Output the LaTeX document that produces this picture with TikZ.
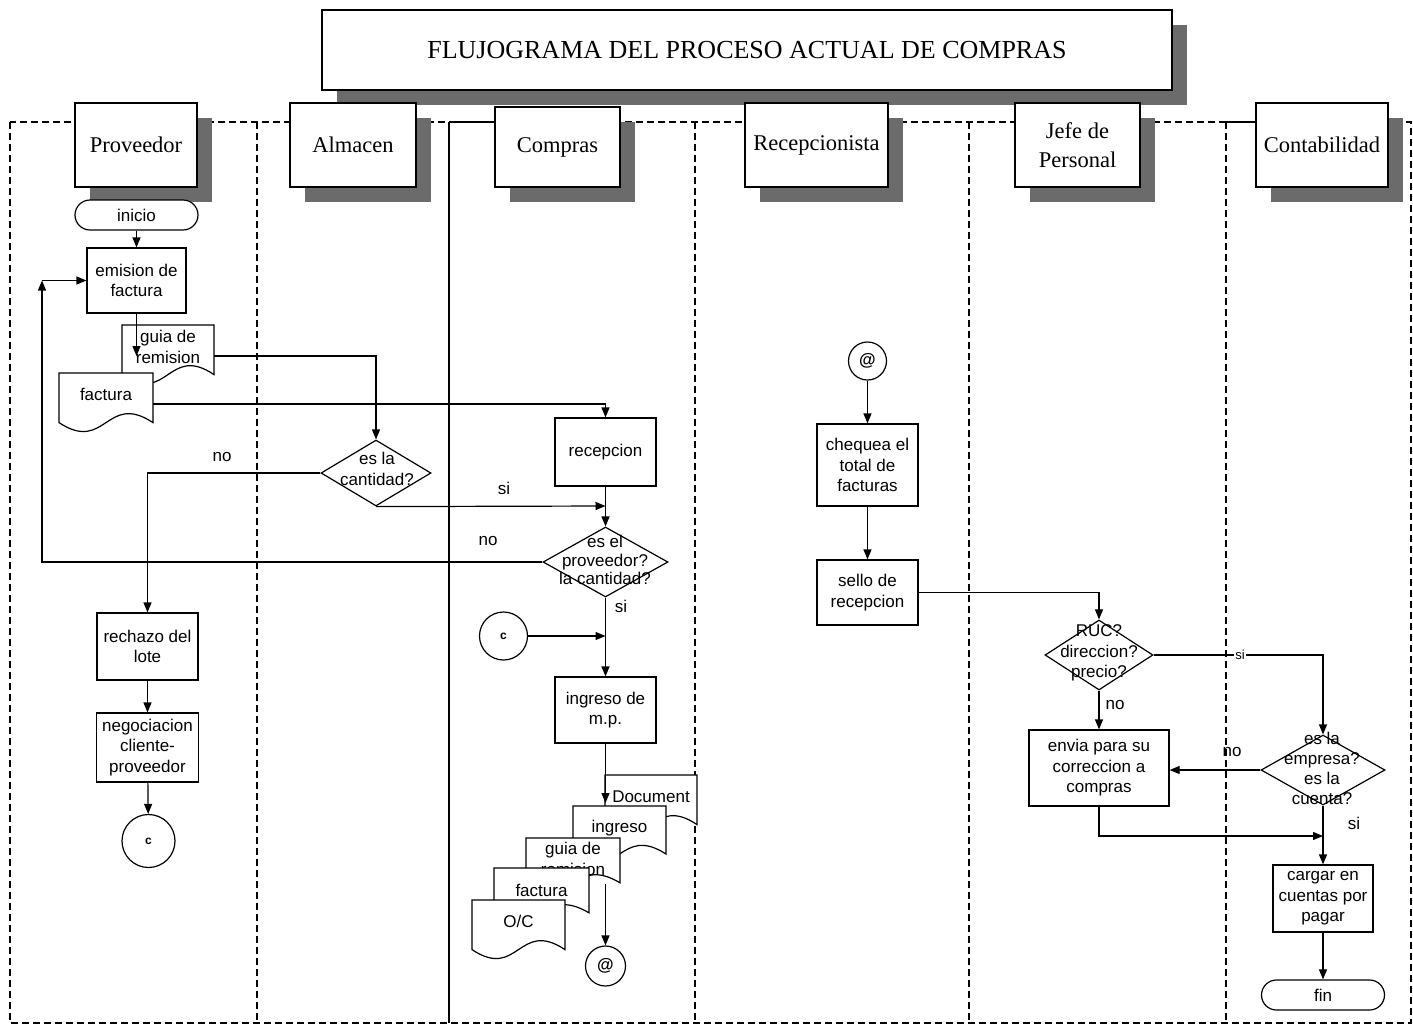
\documentclass[tikz,border=0pt]{standalone}
\usepackage{fontspec}
\setmainfont{Liberation Serif}
\setsansfont{Liberation Sans}
\usetikzlibrary{arrows.meta,shapes.geometric,shadows}

\tikzset{
  ln/.style={line width=1.2pt},
  arr/.style={line width=1.2pt,-{Triangle[length=10pt,width=8pt]}},
  lane/.style={line width=1.2pt, dash pattern=on 7pt off 4pt},
  hdr/.style={draw, line width=1.2pt, fill=white, font=\fontsize{22.5}{29}\selectfont,
    align=center, inner sep=0pt,
    drop shadow={shadow xshift=15pt, shadow yshift=-15pt, fill=black!58, opacity=1}},
  proc/.style={draw, line width=1.2pt, fill=white, font=\sffamily\fontsize{17}{20.5}\selectfont,
    align=center, inner sep=0pt},
  term/.style={proc, rounded corners=15pt},
  dia/.style={draw, line width=1.2pt, fill=white, shape=diamond, inner sep=0pt},
  ptext/.style={font=\sffamily\fontsize{17}{20.5}\selectfont, align=center, inner sep=0pt},
  lbl/.style={font=\sffamily\fontsize{17}{20}\selectfont, inner sep=1pt},
  conn/.style={draw, circle, line width=1.2pt, fill=white, inner sep=0pt,
    font=\sffamily\bfseries\fontsize{12}{13}\selectfont},
  atconn/.style={conn, font=\sffamily\bfseries\fontsize{17}{18}\selectfont},
  docline/.style={line width=1.2pt, fill=white},
  doctext/.style={font=\sffamily\fontsize{17}{20.5}\selectfont, align=center, inner sep=0pt},
}

% document symbol: name, left x, top y, width, height, text offset, text
\newcommand{\docshape}[7]{%
  \pgfmathsetmacro{\dsR}{#2+#4}%
  \pgfmathsetmacro{\dsB}{#3+0.8*#5}%
  \pgfmathsetmacro{\dsM}{#2+0.5*#4}%
  \pgfmathsetmacro{\dsLo}{#3+1.3*#5}%
  \pgfmathsetmacro{\dsHi}{#3+0.3*#5}%
  \pgfmathsetmacro{\dsE}{#3+0.5*#5}%
  \filldraw[docline] (#2,#3) -- (\dsR,#3) -- (\dsR,\dsB)
    .. controls (\dsM,\dsHi) and (\dsM,\dsLo) .. (#2,\dsB) -- cycle;
  \coordinate (#1-e) at (\dsR,\dsE);
  \node[doctext] (#1) at (\dsM,#3+#6) {#7};
}

\begin{document}
\begin{tikzpicture}[x=1pt,y=-1pt]
\useasboundingbox (0,0) rectangle (1413,1026);
\fill[white] (0,0) rectangle (1413,1026);

% swimlanes
\draw[lane] (10,122) rectangle (1411,1023);
\draw[lane] (257,122) -- (257,1023);
\draw[lane] (695,122) -- (695,1023);
\draw[lane] (969,122) -- (969,1023);
\draw[lane] (1226,122) -- (1226,1023);
\draw[ln] (449,122) -- (449,1023);
\draw[ln] (449,122) -- (495,122);
\draw[ln] (1226,122) -- (1256,122);

% title and lane headers
\node[hdr, minimum width=850, minimum height=80, font=\fontsize{26}{30}\selectfont] (title) at (747,50)
  {FLUJOGRAMA DEL PROCESO ACTUAL DE COMPRAS};
\node[hdr, minimum width=122, minimum height=84] (hprov) at (136,145) {Proveedor};
\node[hdr, minimum width=126, minimum height=84] (halm) at (353,145) {Almacen};
\node[hdr, minimum width=125, minimum height=80] (hcom) at (557.5,147) {Compras};
\node[hdr, minimum width=143, minimum height=84] (hrec) at (816.5,145) {Recepcionista};
\node[hdr, minimum width=125, minimum height=84] (hjef) at (1077.5,145) {Jefe de\\Personal};
\node[hdr, minimum width=132, minimum height=84] (hcon) at (1322,145) {Contabilidad};

% Proveedor
\node[term, minimum width=123, minimum height=30] (ini) at (136.5,215) {inicio};
\node[proc, minimum width=99, minimum height=65] (emi) at (136.5,280.5) {emision de\\factura};
\coordinate (emiend) at (136.5,356);
\coordinate (lp) at (42,280.5);
\draw[arr] (ini) -- (emi);
\docshape{pguia}{122}{325}{92}{62}{22}{guia de\\remision}
\draw[arr] (emi.south) -- (emiend);
\docshape{pfac}{59}{373}{94}{62}{21}{factura}

\node[proc, minimum width=101, minimum height=67] (rech) at (147.5,646.5) {rechazo del\\lote};
\node[proc, minimum width=102, minimum height=69] (neg) at (147.5,747.5) {negociacion\\cliente-\\proveedor};
\node[conn, minimum size=53] (c1) at (148.5,841) {c};
\draw[arr] (rech) -- (neg);
\draw[arr] (neg) -- (c1);

% Almacen
\node[dia, minimum width=110, minimum height=66] (d1) at (376,473) {};
\node[ptext] (d1t) at (377,469) {es la\\cantidad?};

% Compras
\node[proc, minimum width=101, minimum height=68] (rec) at (605.5,452) {recepcion};
\node[dia, minimum width=125, minimum height=70] (d2) at (605.5,562) {};
\node[ptext, font=\sffamily\fontsize{17}{18.5}\selectfont] (d2t) at (605,560) {es el\\proveedor?\\la cantidad?};
\node[conn, minimum size=48] (c2) at (503.5,636) {c};
\coordinate (j1) at (605.5,506);
\coordinate (j2) at (605.5,636);
\node[proc, minimum width=101, minimum height=66] (ing) at (605.5,710) {ingreso de\\m.p.};
\coordinate (stkin) at (605.5,803);
\coordinate (stkout) at (605.5,884);
\node[atconn, minimum size=40] (at2) at (605.5,966) {@};

\docshape{sdoc}{605}{775}{92}{62}{22}{Document}
\draw[arr] (ing.south) -- (stkin);
\docshape{singr}{573}{806}{93}{60}{22}{ingreso}
\docshape{sguia}{526}{838}{94}{56}{21}{guia de\\remision}
\docshape{sfac}{494}{868}{95}{56}{22}{factura}
\docshape{soc}{472}{900}{93}{62}{21}{O/C}
\draw[arr] (stkout) -- (at2);

% Recepcionista
\node[atconn, minimum size=38] (at1) at (867.5,361) {@};
\node[proc, minimum width=101, minimum height=82] (chq) at (867.5,465) {chequea el\\total de\\facturas};
\node[proc, minimum width=101, minimum height=65] (sel) at (867.5,592.5) {sello de\\recepcion};

% Jefe de Personal
\node[dia, minimum width=108, minimum height=70] (ruc) at (1099,655) {};
\node[ptext] (ruct) at (1099,653) {RUC?\\direccion?\\precio?};
\node[proc, minimum width=140, minimum height=76] (env) at (1099,768) {envia para su\\correccion a\\compras};

% Contabilidad
\node[dia, minimum width=124, minimum height=70] (emp) at (1323,770) {};
\node[ptext, font=\sffamily\fontsize{17}{20}\selectfont] (empt) at (1322,768) {es la\\empresa?\\es la\\cuenta?};
\node[proc, minimum width=100, minimum height=67] (car) at (1323,898.5) {cargar en\\cuentas por\\pagar};
\node[term, minimum width=123, minimum height=30] (fin) at (1323,995) {fin};
\coordinate (j3) at (1323,836);

% connectors
\draw[arr] (pguia-e) -| (d1.north);
\draw[arr] (pfac-e) -| (rec.north);
\draw[arr] (d1.west) -| (rech.north);
\draw[arr] (d1.south) -- (j1);
\draw[arr] (rec) -- (d2);
\draw[arr] (d2.west) -| (lp);
\draw[arr] (lp) -- (emi.west);
\draw[arr] (d2) -- (ing);
\draw[arr] (c2) -- (j2);
\draw[arr] (at1) -- (chq);
\draw[arr] (chq) -- (sel);
\draw[arr] (sel.east) -| (ruc.north);
\draw[arr] (ruc.east) -| (emp.north);
\draw[arr] (ruc) -- (env);
\draw[arr] (emp.west) -- (emp.west -| env.east);
\draw[arr] (emp) -- (car);
\draw[arr] (env.south) |- (j3);
\draw[arr] (car) -- (fin);

% branch labels
\node[lbl] (lno1) at (222,457) {no};
\node[lbl] (lsi1) at (504,488) {si};
\node[lbl] (lno2) at (488,541) {no};
\node[lbl] (lsi2) at (621,606) {si};
\node[lbl, fill=white, font=\sffamily\fontsize{13}{14}\selectfont] (lsi3) at (1240,655) {si};
\node[lbl] (lno3) at (1115,705) {no};
\node[lbl] (lno4) at (1232,752) {no};
\node[lbl] (lsi4) at (1354,823) {si};
\end{tikzpicture}
\end{document}
